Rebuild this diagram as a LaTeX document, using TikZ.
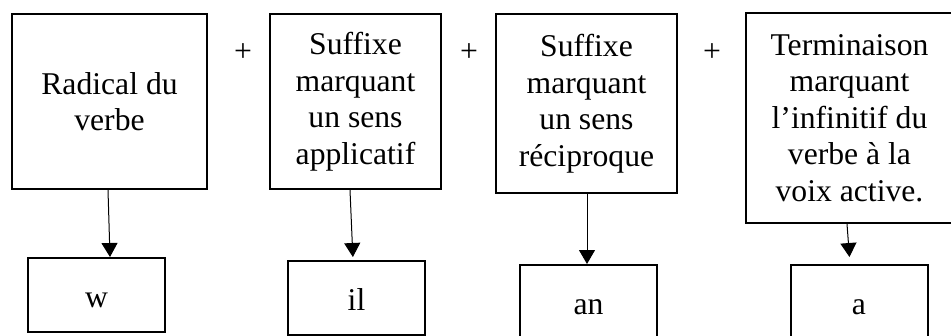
\documentclass[tikz,border=0pt]{standalone}
\usepackage{fontspec}
\setmainfont{Liberation Serif}
\usetikzlibrary{arrows.meta,calc}
\begin{document}
\begin{tikzpicture}[x=0.75pt,y=-0.75pt,
  txt/.style={font=\fontsize{23.75pt}{27.4pt}\selectfont},
  bigbox/.style={txt,draw,line width=1.5pt,align=center,inner sep=0pt},
  smallbox/.style={txt,draw,line width=1.5pt,minimum width=102.75pt,minimum height=55.5pt,inner sep=0pt,text height=18pt,text depth=0pt},
  arr/.style={line width=0.75pt,-{Triangle[length=10.5pt,width=12pt]}}]
\clip (0,0) rectangle (951,336);
\useasboundingbox (0,0) rectangle (951,336);
% top boxes
\node[bigbox,minimum width=146.25pt,minimum height=131.25pt] (b1) at (109.5,101.5) {Radical du\\verbe};
\node[bigbox,minimum width=128.25pt,minimum height=131.25pt] (b2) at (355.5,101.5) {Suffixe\\marquant\\un sens\\applicatif};
\node[bigbox,minimum width=135.75pt,minimum height=134.25pt] (b3) at (586.5,103.5) {Suffixe\\marquant\\un sens\\réciproque};
\node[bigbox,minimum width=155.25pt,minimum height=157.5pt] (b4) at (849.5,118) {Terminaison\\marquant\\l’infinitif du\\verbe à la\\voix active.};
% plus signs
\node[txt] (p1) at (243,53) {+};
\node[txt] (p2) at (469,53) {+};
\node[txt] (p3) at (712,53) {+};
% bottom boxes
\node[smallbox] (w) at (96.5,295) {w};
\node[smallbox] (il) at (356.5,298) {il};
\node[smallbox] (an) at (588.5,302) {an};
\node[smallbox] (a) at (859,302) {a};
% arrows
\draw[arr] ($(b1.south)+(-1.5,0)$) -- ($(w.north)+(13.5,0)$);
\draw[arr,shorten >=2.25pt] ($(b2.south)+(-5.5,0)$) -- ($(il.north)+(-3.5,0)$);
\draw[arr] ($(b3.south)+(0.5,0)$) -- ($(an.north)+(-1.5,0)$);
\draw[arr,shorten >=5.25pt] ($(b4.south)+(-2.5,0)$) -- ($(a.north)+(-9,0)$);
\end{tikzpicture}
\end{document}
